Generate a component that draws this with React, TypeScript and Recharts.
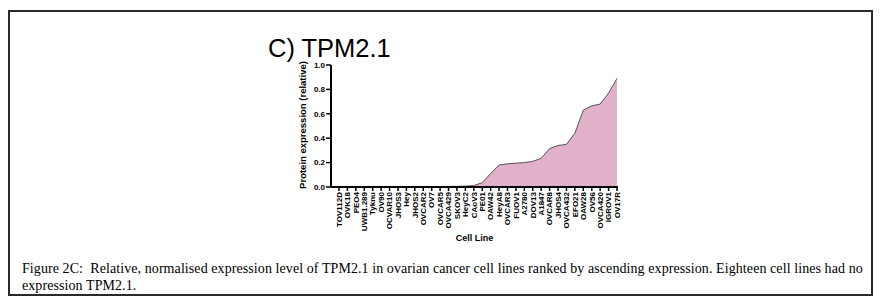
import React from 'react';
import { AreaChart, Area, XAxis, YAxis, Label } from 'recharts';

// cell lines ranked by ascending TPM2.1 expression
const cellLines = [
  'TOV112D', 'OVK18', 'PEO4', 'UWB1.289', 'Tyknu', 'OV90', 'OCVAR10', 'JHOS3', 'Hey',
  'JHOS2', 'OVCAR2', 'OV7', 'OVCAR5', 'OVCA429', 'SKOV3', 'HeyC2', 'CAoV3', 'PE01',
  'OAW42', 'HeyA8', 'OVCAR3', 'FUOV1', 'A2780', 'DOV13', 'A1847', 'OVCAR8', 'JHOS4',
  'OVCA432', 'EFO21', 'OAW28', 'OV56', 'OVCA420', 'IGROV1', 'OV17R',
];

const expression = [
  0, 0, 0, 0, 0, 0, 0, 0, 0,
  0, 0, 0, 0.003, 0.005, 0.005, 0.007, 0.012, 0.035,
  0.11, 0.18, 0.19, 0.195, 0.2, 0.21, 0.235, 0.315, 0.34,
  0.35, 0.44, 0.63, 0.665, 0.68, 0.77, 0.89,
];

const yTicks = [0, 0.2, 0.4, 0.6, 0.8, 1.0];

const data = cellLines.map((name, i) => ({ name, value: expression[i] }));

const sans = '"Liberation Sans", Arial, sans-serif';

const CellTick = (props: any) => {
  const { x, y, payload } = props;
  return (
    <text
      x={x}
      y={y}
      transform={`rotate(-90, ${x}, ${y})`}
      textAnchor="end"
      dy="0.35em"
      fontSize={8}
      fontWeight="bold"
      fontFamily={sans}
      fill="#000"
    >
      {payload.value}
    </text>
  );
};

const YTitle = (props: any) => {
  const { viewBox } = props;
  const x = viewBox.x + viewBox.width - 28;
  const y = 125;
  return (
    <text
      x={x}
      y={y}
      transform={`rotate(-90, ${x}, ${y})`}
      textAnchor="middle"
      dy="0.35em"
      fontSize={9.5}
      fontWeight="bold"
      fontFamily={sans}
      fill="#000"
    >
      Protein expression (relative)
    </text>
  );
};

const App = () => {
  return (
    <div style={{ position: 'absolute', left: 0, top: 0, width: 888, height: 304, background: '#fff' }}>
      <div
        style={{
          position: 'absolute', left: 8, top: 10, width: 865, height: 286,
          border: '2px solid #2a2a2a', boxSizing: 'border-box',
        }}
      />
      <div
        style={{
          position: 'absolute', left: 268, top: 36, fontSize: 25.5, lineHeight: '25px',
          fontFamily: sans, color: '#000', whiteSpace: 'nowrap',
        }}
      >
        C) TPM2.1
      </div>
      <div style={{ position: 'absolute', left: 0, top: 0 }}>
        <AreaChart
          width={888}
          height={304}
          data={data}
          margin={{ top: 65, right: 270, bottom: 67, left: 0 }}
        >
          <XAxis
            dataKey="name"
            interval={0}
            height={50}
            padding={{ left: 8, right: 1 }}
            tick={<CellTick />}
            tickSize={4}
            tickMargin={1}
            axisLine={{ stroke: '#000', strokeWidth: 2 }}
            tickLine={{ stroke: '#000', strokeWidth: 1.5 }}
          >
            <Label
              value="Cell Line"
              position="insideBottom"
              offset={-4}
              style={{ fontSize: 9, fontWeight: 'bold', fontFamily: sans, fill: '#000' }}
            />
          </XAxis>
          <YAxis
            width={331}
            domain={[0, 1]}
            ticks={yTicks}
            tickFormatter={(v: number) => v.toFixed(1)}
            tickSize={5}
            tickMargin={1}
            tick={{ fontSize: 8, fontWeight: 'bold', fontFamily: sans, fill: '#000' }}
            axisLine={{ stroke: '#000', strokeWidth: 2 }}
            tickLine={{ stroke: '#000', strokeWidth: 1.5 }}
          >
            <Label content={<YTitle />} />
          </YAxis>
          <Area
            type="linear"
            dataKey="value"
            stroke="#555"
            strokeWidth={1}
            fill="#e1b1c9"
            fillOpacity={1}
            isAnimationActive={false}
          />
        </AreaChart>
      </div>
      <div
        style={{
          position: 'absolute', left: 22, top: 260, fontSize: 14, lineHeight: '17px',
          letterSpacing: 0.08,
          fontFamily: '"Liberation Serif", "Times New Roman", serif', color: '#000',
          whiteSpace: 'nowrap',
        }}
      >
        Figure 2C:{'\u00a0'} Relative, normalised expression level of TPM2.1 in ovarian cancer cell lines ranked by ascending expression. Eighteen cell lines had no
        <br />
        expression TPM2.1.
      </div>
    </div>
  );
};

export default App;
